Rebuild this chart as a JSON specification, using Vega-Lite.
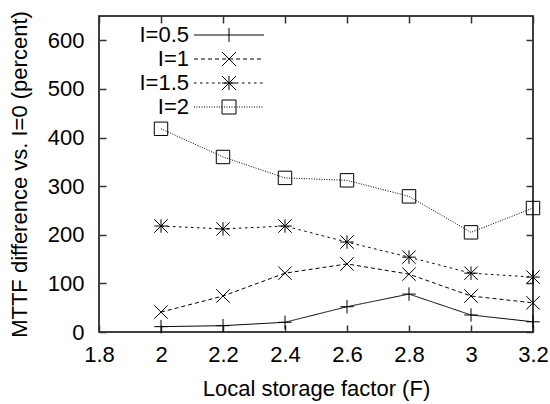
{
  "$schema": "https://vega.github.io/schema/vega-lite/v6.json",
  "width": 434,
  "height": 316,
  "autosize": {"type": "none"},
  "padding": {"left": 99, "top": 16, "right": 17, "bottom": 72},
  "config": {
    "font": "Liberation Sans",
    "view": {"stroke": "black", "strokeWidth": 1.5},
    "axis": {
      "labelFontSize": 22,
      "titleFontSize": 22,
      "titleFontWeight": "normal",
      "labelColor": "black",
      "titleColor": "black",
      "tickColor": "#333333",
      "tickWidth": 1.5,
      "domain": false,
      "grid": false
    },
    "legend": {"labelColor": "black"}
  },
  "data": {
    "values": [
      {"F": 2.0, "I": "I=0.5", "v": 11},
      {"F": 2.2, "I": "I=0.5", "v": 13},
      {"F": 2.4, "I": "I=0.5", "v": 20},
      {"F": 2.6, "I": "I=0.5", "v": 52},
      {"F": 2.8, "I": "I=0.5", "v": 78},
      {"F": 3.0, "I": "I=0.5", "v": 35},
      {"F": 3.2, "I": "I=0.5", "v": 21},
      {"F": 2.0, "I": "I=1", "v": 41},
      {"F": 2.2, "I": "I=1", "v": 74},
      {"F": 2.4, "I": "I=1", "v": 121},
      {"F": 2.6, "I": "I=1", "v": 140},
      {"F": 2.8, "I": "I=1", "v": 119},
      {"F": 3.0, "I": "I=1", "v": 74},
      {"F": 3.2, "I": "I=1", "v": 60},
      {"F": 2.0, "I": "I=1.5", "v": 218},
      {"F": 2.2, "I": "I=1.5", "v": 212},
      {"F": 2.4, "I": "I=1.5", "v": 218},
      {"F": 2.6, "I": "I=1.5", "v": 185},
      {"F": 2.8, "I": "I=1.5", "v": 154},
      {"F": 3.0, "I": "I=1.5", "v": 121},
      {"F": 3.2, "I": "I=1.5", "v": 113},
      {"F": 2.0, "I": "I=2", "v": 418},
      {"F": 2.2, "I": "I=2", "v": 360},
      {"F": 2.4, "I": "I=2", "v": 317},
      {"F": 2.6, "I": "I=2", "v": 312},
      {"F": 2.8, "I": "I=2", "v": 279},
      {"F": 3.0, "I": "I=2", "v": 205},
      {"F": 3.2, "I": "I=2", "v": 255}
    ]
  },
  "layer": [
    {
      "mark": {"type": "line", "color": "black", "strokeWidth": 1},
      "encoding": {
        "x": {
          "field": "F", "type": "quantitative",
          "scale": {"domain": [1.8, 3.2], "nice": false, "zero": false},
          "axis": {
            "orient": "bottom",
            "values": [1.8, 2, 2.2, 2.4, 2.6, 2.8, 3, 3.2],
            "format": "~g",
            "title": "Local storage factor (F)",
            "tickSize": -7,
            "labelPadding": 36,
            "labelBaseline": "alphabetic",
            "labelFlush": false,
            "titleBaseline": "alphabetic",
            "titleY": 63
          }
        },
        "y": {
          "field": "v", "type": "quantitative",
          "scale": {"domain": [0, 650], "nice": false},
          "axis": {
            "orient": "left",
            "values": [0, 100, 200, 300, 400, 500, 600],
            "title": "MTTF difference vs. I=0 (percent)",
            "tickSize": -7,
            "labelPadding": 22,
            "labelBaseline": "middle",
            "labelFlush": false,
            "titleBaseline": "alphabetic",
            "titleX": -73
          }
        },
        "strokeDash": {
          "field": "I", "type": "nominal",
          "scale": {
            "domain": ["I=0.5", "I=1", "I=1.5", "I=2"],
            "range": [[1, 0], [4, 3], [2.5, 3.5], [1, 1.5]]
          },
          "legend": null
        }
      }
    },
    {
      "mark": {"type": "point", "filled": false, "color": "black", "strokeWidth": 1, "size": 180, "opacity": 1},
      "encoding": {
        "x": {
          "field": "F", "type": "quantitative",
          "scale": {"domain": [1.8, 3.2], "nice": false, "zero": false},
          "axis": {
            "orient": "top",
            "values": [1.8, 2, 2.2, 2.4, 2.6, 2.8, 3, 3.2],
            "labels": false,
            "title": null,
            "tickSize": -7
          }
        },
        "y": {
          "field": "v", "type": "quantitative",
          "scale": {"domain": [0, 650], "nice": false},
          "axis": {
            "orient": "right",
            "values": [0, 100, 200, 300, 400, 500, 600],
            "labels": false,
            "title": null,
            "tickSize": -7
          }
        },
        "shape": {
          "field": "I", "type": "nominal",
          "scale": {
            "domain": ["I=0.5", "I=1", "I=1.5", "I=2"],
            "range": [
              "M-1,0H1M0,-1V1",
              "M-1,-1L1,1M-1,1L1,-1",
              "M-1,-1L1,1M-1,1L1,-1M0,-1V1M-1,0H1",
              "M-1,-1H1V1H-1Z"
            ]
          },
          "legend": null
        }
      }
    },
    {
      "mark": {"type": "point", "filled": false, "color": "black", "strokeWidth": 1, "size": 0},
      "encoding": {
        "x": {"field": "F", "type": "quantitative", "scale": {"domain": [1.8, 3.2], "nice": false, "zero": false}, "axis": null},
        "y": {"field": "v", "type": "quantitative", "scale": {"domain": [0, 650], "nice": false}, "axis": null},
        "shape": {
          "field": "I", "type": "nominal",
          "scale": {
            "domain": ["I=0.5", "I=1", "I=1.5", "I=2"],
            "range": [
              "M-35,0H35M0,-7V7",
              "M-35,0H-31M-28,0H-24M-21,0H-17M-14,0H-10M-7,0H-3M0,0H4M7,0H11M14,0H18M21,0H25M28,0H32M-7,-7L7,7M-7,7L7,-7",
              "M-35,0H-32.5M-29,0H-26.5M-23,0H-20.5M-17,0H-14.5M-11,0H-8.5M-5,0H-2.5M1,0H3.5M7,0H9.5M13,0H15.5M19,0H21.5M25,0H27.5M31,0H33.5M-7,-7L7,7M-7,7L7,-7M0,-7V7M-7,0H7",
              "M-35,0H-34M-32.5,0H-31.5M-30,0H-29M-27.5,0H-26.5M-25,0H-24M-22.5,0H-21.5M-20,0H-19M-17.5,0H-16.5M-15,0H-14M-12.5,0H-11.5M-10,0H-9M-7.5,0H-6.5M-5,0H-4M-2.5,0H-1.5M0,0H1M2.5,0H3.5M5,0H6M7.5,0H8.5M10,0H11M12.5,0H13.5M15,0H16M17.5,0H18.5M20,0H21M22.5,0H23.5M25,0H26M27.5,0H28.5M30,0H31M32.5,0H33.5M-7,-7H7V7H-7Z"
            ]
          },
          "legend": {
            "orient": "none",
            "legendX": 119,
            "legendY": 8,
            "title": null,
            "padding": 0,
            "symbolSize": 4,
            "symbolStrokeWidth": 1,
            "symbolStrokeColor": "black",
            "symbolFillColor": "transparent",
            "symbolOpacity": 1,
            "labelFontSize": 22,
            "labelAlign": "right",
            "labelBaseline": "middle",
            "labelOffset": -51,
            "rowPadding": 2
          }
        }
      }
    }
  ],
  "resolve": {
    "scale": {"shape": "independent"},
    "axis": {"x": "independent", "y": "independent"}
  }
}
